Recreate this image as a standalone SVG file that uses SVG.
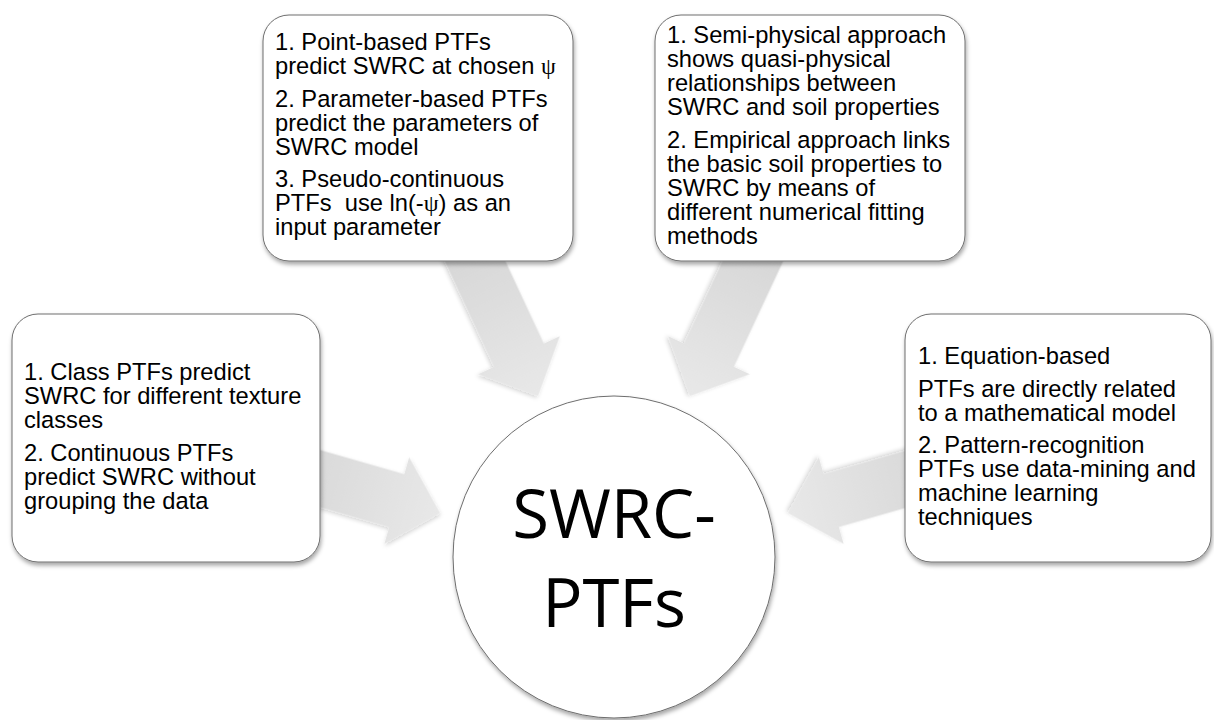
<svg xmlns="http://www.w3.org/2000/svg" width="1214" height="720" viewBox="0 0 1214 720">
<defs>
  <filter id="sh" x="-10%" y="-10%" width="125%" height="130%">
    <feDropShadow dx="1" dy="3" stdDeviation="2" flood-color="#000" flood-opacity="0.35"/>
  </filter>
  <filter id="ash" x="-20%" y="-20%" width="140%" height="140%">
    <feDropShadow dx="1" dy="2" stdDeviation="2" flood-color="#000" flood-opacity="0.18"/>
  </filter>
  <linearGradient id="ag" gradientUnits="userSpaceOnUse" x1="-170" y1="0" x2="0" y2="0">
    <stop offset="0" stop-color="#d6d6d6"/>
    <stop offset="1" stop-color="#e8e8e8"/>
  </linearGradient>
</defs>
<style>
  .box{fill:#fff;stroke:#6e6e6e;stroke-width:1;filter:url(#sh)}
  .arrow{fill:url(#ag);filter:url(#ash)}
  .t{font-family:"Liberation Sans",Arial,sans-serif;font-size:23.7px;fill:#000}
  .psi{font-family:"Liberation Serif","Times New Roman",serif}
  .big{font-family:"Open Sans",sans-serif;font-size:67px;fill:#000;text-anchor:middle}
</style>
<rect width="1214" height="720" fill="#fff"/>

<g id="connectors">
  <path class="arrow" transform="translate(440,513) rotate(16)" d="M0,0 L-45,-45 L-45,-27.5 L-170,-27.5 L-170,27.5 L-45,27.5 L-45,45 Z"/>
  <path class="arrow" transform="translate(538,396) rotate(65)" d="M0,0 L-45,-45 L-45,-27.5 L-170,-27.5 L-170,27.5 L-45,27.5 L-45,45 Z"/>
  <path class="arrow" transform="translate(690,396) rotate(115)" d="M0,0 L-45,-45 L-45,-27.5 L-170,-27.5 L-170,27.5 L-45,27.5 L-45,45 Z"/>
  <path class="arrow" transform="translate(788,513) rotate(164)" d="M0,0 L-45,-45 L-45,-27.5 L-170,-27.5 L-170,27.5 L-45,27.5 L-45,45 Z"/>
</g>

<g id="node-point-based">
  <rect class="box" x="263" y="15" width="310" height="246" rx="26"/>
  <text class="t">
    <tspan x="275" y="50">1. Point-based PTFs</tspan>
    <tspan x="275" y="74">predict SWRC at chosen <tspan class="psi">ψ</tspan></tspan>
    <tspan x="275" y="106.5">2. Parameter-based PTFs</tspan>
    <tspan x="275" y="130.5">predict the parameters of</tspan>
    <tspan x="275" y="154.5">SWRC model</tspan>
    <tspan x="275" y="187">3. Pseudo-continuous</tspan>
    <tspan x="275" y="211">PTFs&#160; use ln(-<tspan class="psi">ψ</tspan>) as an</tspan>
    <tspan x="275" y="235">input parameter</tspan>
  </text>
</g>

<g id="node-semi-physical">
  <rect class="box" x="655" y="15" width="310" height="246" rx="26"/>
  <text class="t">
    <tspan x="667" y="43">1. Semi-physical approach</tspan>
    <tspan x="667" y="67">shows quasi-physical</tspan>
    <tspan x="667" y="91">relationships between</tspan>
    <tspan x="667" y="115">SWRC and soil properties</tspan>
    <tspan x="667" y="147.5">2. Empirical approach links</tspan>
    <tspan x="667" y="171.5">the basic soil properties to</tspan>
    <tspan x="667" y="195.5">SWRC by means of</tspan>
    <tspan x="667" y="219.5">different numerical fitting</tspan>
    <tspan x="667" y="243.5">methods</tspan>
  </text>
</g>

<g id="node-class">
  <rect class="box" x="12" y="314" width="308" height="248" rx="26"/>
  <text class="t">
    <tspan x="24" y="380">1. Class PTFs predict</tspan>
    <tspan x="24" y="404">SWRC for different texture</tspan>
    <tspan x="24" y="428">classes</tspan>
    <tspan x="24" y="460.5">2. Continuous PTFs</tspan>
    <tspan x="24" y="484.5">predict SWRC without</tspan>
    <tspan x="24" y="508.5">grouping the data</tspan>
  </text>
</g>

<g id="node-equation">
  <rect class="box" x="905" y="314" width="306" height="248" rx="26"/>
  <text class="t">
    <tspan x="918" y="364">1. Equation-based</tspan>
    <tspan x="918" y="396.5">PTFs are directly related</tspan>
    <tspan x="918" y="420.5">to a mathematical model</tspan>
    <tspan x="918" y="453">2. Pattern-recognition</tspan>
    <tspan x="918" y="477">PTFs use data-mining and</tspan>
    <tspan x="918" y="501">machine learning</tspan>
    <tspan x="918" y="525">techniques</tspan>
  </text>
</g>

<g id="node-center">
  <circle class="box" cx="614" cy="557" r="161"/>
  <text class="big" x="614" y="538">SWRC-</text>
  <text class="big" x="614" y="627">PTFs</text>
</g>
</svg>
